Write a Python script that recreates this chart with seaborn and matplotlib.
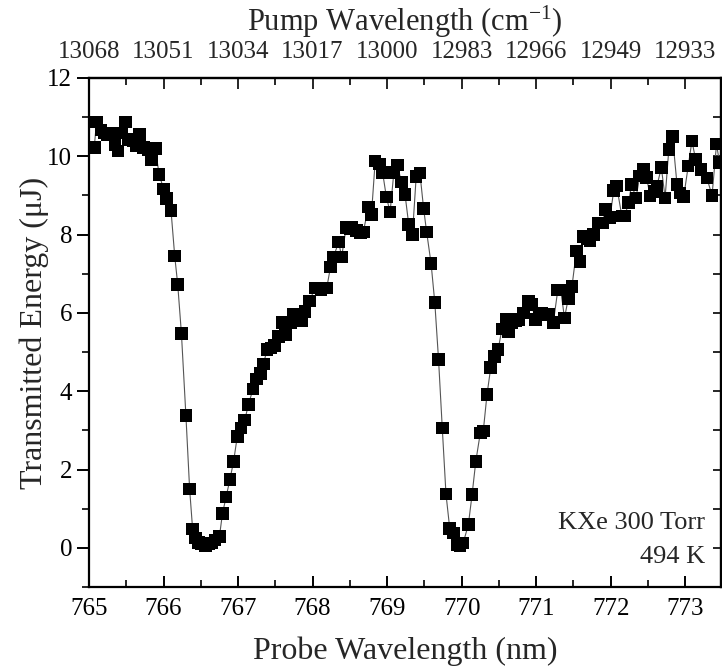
import matplotlib
matplotlib.use("Agg")
import matplotlib.pyplot as plt
from matplotlib.ticker import MultipleLocator, FixedLocator
import seaborn as sns
import pandas as pd

probe_nm = [765.07, 765.10, 765.16, 765.21, 765.25, 765.30, 765.35, 765.39, 765.44, 765.49,
            765.53, 765.59, 765.64, 765.68, 765.73, 765.80, 765.84, 765.89, 765.94, 766.00,
            766.04, 766.10, 766.15, 766.19, 766.24, 766.30, 766.35, 766.39, 766.43, 766.47,
            766.51, 766.56, 766.60, 766.64, 766.69, 766.75, 766.79, 766.84, 766.89, 766.94,
            766.99, 767.04, 767.09, 767.14, 767.20, 767.25, 767.30, 767.34, 767.39, 767.44,
            767.49, 767.54, 767.59, 767.64, 767.70, 767.74, 767.80, 767.85, 767.90, 767.96,
            768.03, 768.11, 768.19, 768.24, 768.28, 768.35, 768.39, 768.45, 768.50, 768.53,
            768.59, 768.64, 768.68, 768.75, 768.79, 768.84, 768.90, 768.94, 768.99, 769.04,
            769.09, 769.14, 769.19, 769.24, 769.29, 769.34, 769.39, 769.44, 769.49, 769.53,
            769.59, 769.64, 769.69, 769.74, 769.79, 769.84, 769.89, 769.94, 769.98, 770.02,
            770.09, 770.14, 770.19, 770.25, 770.29, 770.34, 770.39, 770.44, 770.49, 770.54,
            770.60, 770.63, 770.67, 770.72, 770.76, 770.83, 770.90, 770.94, 770.99, 771.04,
            771.08, 771.13, 771.17, 771.23, 771.29, 771.33, 771.38, 771.43, 771.48, 771.54,
            771.59, 771.63, 771.68, 771.72, 771.77, 771.84, 771.89, 771.93, 771.99, 772.04,
            772.08, 772.15, 772.19, 772.24, 772.28, 772.34, 772.39, 772.44, 772.48, 772.53,
            772.58, 772.62, 772.68, 772.73, 772.78, 772.83, 772.89, 772.93, 772.98, 773.04,
            773.09, 773.14, 773.21, 773.29, 773.36, 773.42, 773.46]

energy_uJ = [10.22, 10.88, 10.67, 10.60, 10.56, 10.60, 10.30, 10.14, 10.60, 10.88,
             10.43, 10.40, 10.27, 10.56, 10.22, 10.18, 9.92, 10.20, 9.54, 9.17,
             8.92, 8.62, 7.45, 6.73, 5.47, 3.38, 1.50, 0.48, 0.25, 0.14,
             0.10, 0.06, 0.10, 0.12, 0.20, 0.29, 0.87, 1.30, 1.74, 2.21,
             2.85, 3.06, 3.27, 3.66, 4.06, 4.31, 4.45, 4.70, 5.06, 5.10,
             5.17, 5.40, 5.76, 5.45, 5.75, 5.96, 5.90, 5.79, 6.04, 6.30,
             6.64, 6.60, 6.64, 7.17, 7.43, 7.81, 7.43, 8.18, 8.15, 8.18,
             8.10, 8.05, 8.07, 8.71, 8.52, 9.88, 9.80, 9.58, 8.96, 8.58,
             9.58, 9.78, 9.34, 9.03, 8.26, 8.01, 9.48, 9.57, 8.66, 8.07,
             7.26, 6.26, 4.81, 3.06, 1.37, 0.50, 0.38, 0.08, 0.06, 0.12,
             0.59, 1.36, 2.21, 2.93, 2.98, 3.91, 4.60, 4.89, 5.06, 5.59,
             5.83, 5.53, 5.75, 5.79, 5.83, 6.00, 6.30, 6.21, 5.83, 5.95,
             6.00, 5.96, 5.96, 5.75, 6.58, 6.58, 5.87, 6.36, 6.67, 7.58,
             7.32, 7.95, 7.90, 7.84, 8.01, 8.30, 8.30, 8.64, 8.43, 9.12,
             9.24, 8.47, 8.47, 8.82, 9.28, 8.94, 9.50, 9.67, 9.46, 8.99,
             9.10, 9.24, 9.71, 8.94, 10.18, 10.50, 9.28, 9.06, 8.97, 9.75,
             10.39, 9.92, 9.67, 9.45, 9.00, 10.31, 9.84]

bottom_ticks = [765, 766, 767, 768, 769, 770, 771, 772, 773]
top_tick_labels = ["13068", "13051", "13034", "13017", "13000", "12983", "12966", "12949", "12933"]
y_ticks = [0, 2, 4, 6, 8, 10, 12]

df = pd.DataFrame({"probe": probe_nm, "energy": energy_uJ})

sns.set_style("ticks")
plt.rcParams["font.family"] = ["Liberation Serif", "DejaVu Serif"]
plt.rcParams["mathtext.fontset"] = "custom"
plt.rcParams["mathtext.rm"] = "Liberation Serif"
plt.rcParams["mathtext.it"] = "Liberation Serif"

fig = plt.figure(figsize=(7.22, 6.70), dpi=100)
ax = fig.add_axes([0.1233, 0.1239, 0.8753, 0.7597])

sns.lineplot(data=df, x="probe", y="energy", ax=ax, sort=False, color="#555555",
             linewidth=0.8, zorder=2)
sns.scatterplot(data=df, x="probe", y="energy", ax=ax, marker="s", s=82,
                color="black", edgecolor="none", linewidth=0, zorder=3)

ax.set_xlim(765, 773.48)
ax.set_ylim(-1, 12)
ax.xaxis.set_major_locator(FixedLocator(bottom_ticks))
ax.xaxis.set_minor_locator(MultipleLocator(0.5))
ax.yaxis.set_major_locator(FixedLocator(y_ticks))
ax.yaxis.set_minor_locator(MultipleLocator(1))

for sp in ax.spines.values():
    sp.set_linewidth(1.6)
    sp.set_color("black")

ax.tick_params(axis="x", which="major", direction="in", length=8, width=1.4,
               labelsize=18, pad=8, colors="black")
ax.tick_params(axis="x", which="minor", direction="in", length=5, width=1.4)
ax.tick_params(axis="y", which="major", direction="out", length=9, width=1.4,
               labelsize=18, pad=3, colors="black")
ax.tick_params(axis="y", which="minor", direction="out", length=5, width=1.4)

ax.set_xlabel("Probe Wavelength (nm)", fontsize=23, labelpad=12)
ax.set_ylabel("Transmitted Energy (\u03bcJ)", fontsize=23, labelpad=-1)

top = ax.secondary_xaxis("top")
top.xaxis.set_major_locator(FixedLocator(bottom_ticks))
top.set_xticklabels(top_tick_labels)
top.xaxis.set_minor_locator(MultipleLocator(0.5))
top.tick_params(axis="x", which="major", direction="in", length=8, width=1.4,
                labelsize=18, pad=11)
top.tick_params(axis="x", which="minor", direction="in", length=5, width=1.4)
top.set_xlabel("Pump Wavelength (cm$^{\\mathregular{-1}}$)", fontsize=22, labelpad=7)
top.spines["top"].set_linewidth(1.6)

right = ax.secondary_yaxis("right")
right.yaxis.set_major_locator(FixedLocator(y_ticks))
right.yaxis.set_minor_locator(MultipleLocator(1))
right.tick_params(axis="y", which="both", direction="in", length=6, width=1.4,
                  labelright=False)
right.spines["right"].set_linewidth(1.6)

ax.text(0.975, 0.126, "KXe 300 Torr", transform=ax.transAxes, ha="right",
        va="center", fontsize=19)
ax.text(0.975, 0.059, "494 K", transform=ax.transAxes, ha="right",
        va="center", fontsize=19)

fig.savefig("out.png", dpi=100)
